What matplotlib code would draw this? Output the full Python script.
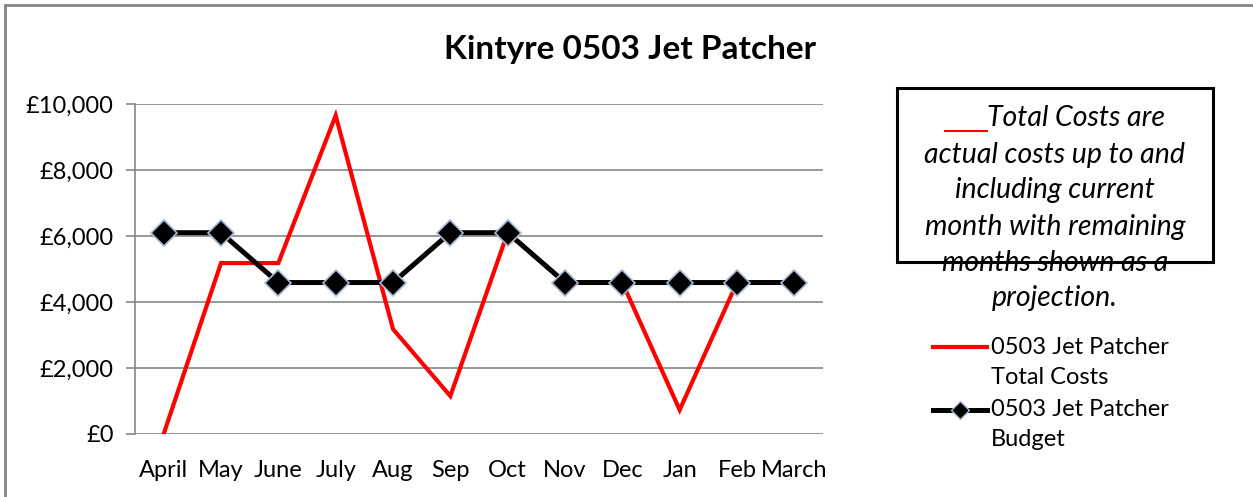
import matplotlib
matplotlib.use("Agg")
import matplotlib.pyplot as plt
from matplotlib.patches import Rectangle
from matplotlib.lines import Line2D
from matplotlib.ticker import FuncFormatter

months = ["April", "May", "June", "July", "Aug", "Sep", "Oct", "Nov", "Dec", "Jan", "Feb", "March"]
total_costs = [0, 5180, 5180, 9650, 3180, 1150, 6100, 4590, 4590, 730, 4590, 4590]
budget = [6100, 6100, 4590, 4590, 4590, 6100, 6100, 4590, 4590, 4590, 4590, 4590]
yticks = [0, 2000, 4000, 6000, 8000, 10000]

plt.rcParams['font.family'] = ['Lato', 'DejaVu Sans']

W, H = 1253, 497
fig = plt.figure(figsize=(W / 100, H / 100), dpi=100)
ax = fig.add_axes([135 / W, 1 - 434 / H, 688 / W, 330 / H])

x = list(range(len(months)))
ax.plot(x, total_costs, color='#ff0000', lw=3, solid_joinstyle='miter', zorder=3)
ax.plot(x, budget, color='black', lw=3.6, marker='D', markersize=13.5,
        markerfacecolor='black', markeredgecolor='#a8b8d0', markeredgewidth=1.2, zorder=4)

ax.set_xlim(-0.5, len(months) - 0.5)
ax.set_ylim(0, 10000)
ax.set_yticks(yticks)
ax.yaxis.set_major_formatter(FuncFormatter(lambda v, p: "£{:,.0f}".format(v)))
ax.set_xticks(x)
ax.set_xticklabels(months)
ax.tick_params(axis='y', length=6.5, width=1.2, color='#868686', labelsize=17, pad=9)
ax.tick_params(axis='x', length=0, labelsize=17, pad=19)
ax.grid(axis='y', color='#868686', lw=1.2)
ax.set_axisbelow(True)
for s in ['top', 'right', 'bottom']:
    ax.spines[s].set_visible(False)
ax.spines['left'].set_color('#868686')
ax.spines['left'].set_linewidth(1.2)

fig.text(630 / W, 1 - 50 / H, "Kintyre 0503 Jet Patcher", ha='center', va='center',
         fontsize=24, fontweight='bold')

# outer chart border (top and left only visible)
fig.add_artist(Line2D([5 / W, 1], [1 - 5 / H, 1 - 5 / H], transform=fig.transFigure,
                      color='#868686', lw=2))
fig.add_artist(Line2D([5 / W, 5 / W], [0, 1 - 5 / H], transform=fig.transFigure,
                      color='#868686', lw=2))

# annotation box
fig.add_artist(Rectangle((897 / W, 1 - 262 / H), 316 / W, 174 / H, transform=fig.transFigure,
                         fill=False, edgecolor='black', lw=2.2, zorder=5))
lines = ["Total Costs are", "actual costs up to and", "including current",
         "month with remaining", "months shown as a", "projection."]
ys = [118, 155, 190, 227, 263, 298]
for i, (t, yy) in enumerate(zip(lines, ys)):
    xx = 1076 if i == 0 else 1055
    fig.text(xx / W, 1 - yy / H, t, ha='center', va='center', fontsize=20.5, style='italic')
fig.add_artist(Line2D([945 / W, 987 / W], [1 - 131 / H, 1 - 131 / H], transform=fig.transFigure,
                      color='#ff0000', lw=1.5))

# legend (drawn manually so handles align with first text line)
fig.add_artist(Line2D([933 / W, 987 / W], [1 - 347 / H, 1 - 347 / H], transform=fig.transFigure,
                      color='#ff0000', lw=3))
fig.add_artist(Line2D([933 / W, 987 / W], [1 - 410 / H, 1 - 410 / H], transform=fig.transFigure,
                      color='black', lw=3.6))
fig.add_artist(Line2D([960 / W], [1 - 410 / H], transform=fig.transFigure, marker='D',
                      markersize=9, markerfacecolor='black', markeredgecolor='#a8b8d0',
                      markeredgewidth=1.0, linestyle='none'))
leg_lines = [("0503 Jet Patcher", 347), ("Total Costs", 378),
             ("0503 Jet Patcher", 410), ("Budget", 440)]
for t, yy in leg_lines:
    fig.text(991 / W, 1 - yy / H, t, ha='left', va='center', fontsize=17)

fig.savefig("out.png", dpi=100)
